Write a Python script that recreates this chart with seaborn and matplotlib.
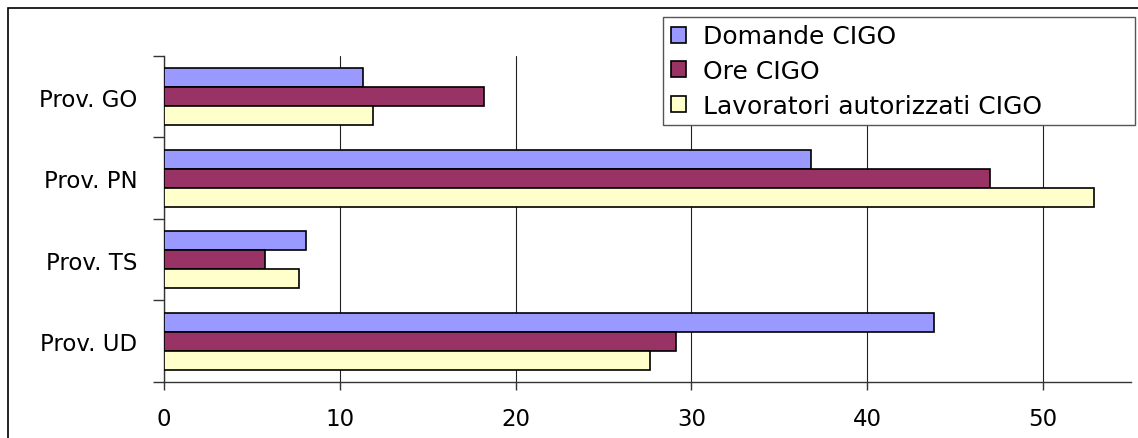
import matplotlib
matplotlib.use("Agg")
import matplotlib.pyplot as plt
from matplotlib.patches import Rectangle
import pandas as pd
import seaborn as sns

# Province labels (top to bottom) and the three CIGO series
province = ["Prov. GO", "Prov. PN", "Prov. TS", "Prov. UD"]
serie = ["Domande CIGO", "Ore CIGO", "Lavoratori autorizzati CIGO"]
domande = [11.3, 36.8, 8.1, 43.8]
ore = [18.2, 47.0, 5.75, 29.1]
lavoratori = [11.9, 52.9, 7.7, 27.65]
xticks = [0, 10, 20, 30, 40, 50]

colori = ["#9999FF", "#993366", "#FFFFCC"]

df = pd.DataFrame({
    "provincia": province * 3,
    "serie": [serie[0]] * 4 + [serie[1]] * 4 + [serie[2]] * 4,
    "valore": domande + ore + lavoratori,
})

sns.set_theme(style="white")
plt.rcParams["font.family"] = ["DejaVu Sans"]
plt.rcParams["text.color"] = "black"

fig = plt.figure(figsize=(11.38, 4.39), dpi=100)
ax = fig.add_axes([0.1441, 0.1276, 0.9938 - 0.1441, 0.8702 - 0.1276])

sns.barplot(
    data=df, y="provincia", x="valore", hue="serie",
    order=province, hue_order=serie, palette=colori,
    orient="h", width=0.7, edgecolor="black", linewidth=1.2,
    saturation=1, errorbar=None, ax=ax, zorder=3,
)

ax.set_xlim(0, 55)
ax.set_ylim(3.5, -0.5)
ax.set_xticks(xticks)
ax.set_xticklabels([str(t) for t in xticks])
ax.set_xlabel("")
ax.set_ylabel("")

# category ticks sit between provinces, labels at the centres
ax.set_yticks(range(len(province)))
ax.set_yticklabels(province)
ax.set_yticks([-0.5, 0.5, 1.5, 2.5, 3.5], minor=True)
ax.tick_params(axis="y", which="major", length=0, pad=19, labelsize=16.5, colors="black")
ax.tick_params(axis="y", which="minor", length=8, width=1, color="#333333", direction="out", left=True)
ax.tick_params(axis="x", which="major", length=6, width=1, color="#333333", direction="out",
               bottom=True, pad=12, labelsize=16.5, labelcolor="black")

ax.grid(axis="x", color="#222222", linewidth=0.8, zorder=0)
ax.grid(axis="y", visible=False)
ax.set_axisbelow(True)

for s in ["top", "right"]:
    ax.spines[s].set_visible(False)
for s in ["left", "bottom"]:
    ax.spines[s].set_color("#333333")
    ax.spines[s].set_linewidth(1.0)

# legend box in the upper right
handles, labels = ax.get_legend_handles_labels()
ax.legend_.remove()
leg = fig.legend(
    handles, labels, loc="upper left",
    bbox_to_anchor=(663 / 1138, 1 - 128 / 439, 472 / 1138, 110 / 439),
    bbox_transform=fig.transFigure, mode="expand", fontsize=18, frameon=True,
    fancybox=False, edgecolor="#555555", framealpha=1, borderpad=0.3,
    labelspacing=0.42, handlelength=0.6, handleheight=0.6, handletextpad=0.7,
    borderaxespad=0, labelcolor="black",
)
leg.get_frame().set_linewidth(1.0)

# outer frame around the chart
fig.patches.append(Rectangle((8 / 1138, -0.1), 1.2, 1.1 - 9 / 439,
                             transform=fig.transFigure, fill=False,
                             edgecolor="black", linewidth=1.2))

fig.savefig("out.png", dpi=100)
